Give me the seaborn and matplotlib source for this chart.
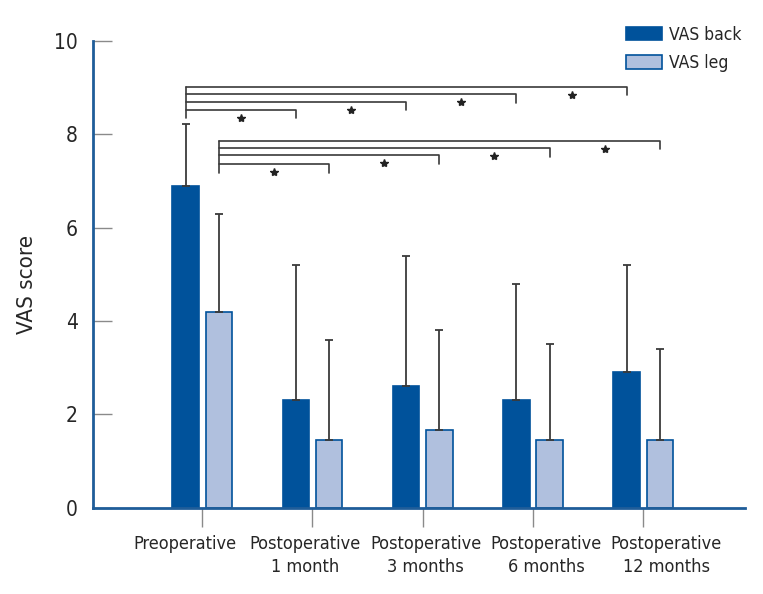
import numpy as np
import pandas as pd
import matplotlib
matplotlib.use("Agg")
import matplotlib.pyplot as plt
from matplotlib import font_manager
import seaborn as sns

# values (mean and upward SD)
categories = ["Preoperative", "Postoperative\n1 month", "Postoperative\n3 months",
              "Postoperative\n6 months", "Postoperative\n12 months"]
series = ["VAS back", "VAS leg"]
back_mean = [6.9, 2.3, 2.6, 2.3, 2.9]
back_sd = [1.33, 2.9, 2.8, 2.5, 2.3]
leg_mean = [4.2, 1.46, 1.66, 1.46, 1.46]
leg_sd = [2.1, 2.14, 2.14, 2.04, 1.94]
y_ticks = [0, 2, 4, 6, 8, 10]

df = pd.DataFrame({
    "period": categories * 2,
    "series": [series[0]] * len(categories) + [series[1]] * len(categories),
    "score": back_mean + leg_mean,
})

sns.set_style("white")

# pick a narrow sans font if one is around, the reference uses a condensed face
narrow = None
for f in font_manager.fontManager.ttflist:
    if f.style != "normal" or f.weight not in (400, "normal", "regular"):
        continue
    if "Narrow" in f.name or f.stretch in ("condensed", "semi-condensed") or "Condensed" in f.fname:
        narrow = f
        break
if narrow is not None:
    plt.rcParams["font.family"] = [narrow.name, "DejaVu Sans"]
    plt.rcParams["font.stretch"] = narrow.stretch
    fs_scale = 1.0
else:
    plt.rcParams["font.family"] = ["Liberation Sans", "DejaVu Sans"]
    fs_scale = 0.92

dark = "#00529b"
light = "#b0c0de"
line_col = "#3a3a3a"
tick_col = "#8a8a8a"

fig = plt.figure(figsize=(7.63, 5.94), dpi=100)
ax = fig.add_axes([0.122, 0.145, 0.854, 0.786])

sns.barplot(data=df, x="period", y="score", hue="series", hue_order=series,
            palette=[dark, light], width=0.6, gap=0.2, errorbar=None,
            saturation=1, ax=ax)
if ax.get_legend():
    ax.get_legend().remove()

bars = list(ax.containers[:2])
for cont in bars:
    for p in cont.patches:
        p.set_edgecolor(dark)
        p.set_linewidth(1.2)

# one-sided error bars (upper SD only)
for cont, sd in zip(bars, [back_sd, leg_sd]):
    xs = [p.get_x() + p.get_width() / 2 for p in cont.patches]
    ys = [p.get_height() for p in cont.patches]
    ax.errorbar(xs, ys, yerr=[np.zeros(len(sd)), sd], fmt="none",
                ecolor=line_col, elinewidth=1.3, capsize=3, capthick=1.3, zorder=3)


def brackets(cont, levels, drop=0.18):
    xs = [p.get_x() + p.get_width() / 2 for p in cont.patches]
    x0 = xs[0]
    ax.plot([x0, x0], [levels[-1], levels[0] - drop], color=line_col, lw=1.2)
    prev = x0
    for xe, lv in zip(xs[1:], levels):
        ax.plot([x0, xe, xe], [lv, lv, lv - drop], color=line_col, lw=1.2)
        ax.plot((prev + xe) / 2, lv - 0.17, marker="*", color="#222222",
                markersize=6, linestyle="none")
        prev = xe


brackets(bars[0], [8.52, 8.70, 8.86, 9.02])
brackets(bars[1], [7.36, 7.55, 7.70, 7.86])

ax.set_xlim(-0.99, 4.92)
ax.set_ylim(0, 10)
ax.set_yticks(y_ticks)
ax.set_xlabel("")
ax.set_ylabel("VAS score", fontsize=16 * fs_scale)
ax.yaxis.set_label_coords(-0.086, 0.478)

# tick marks sit at the groups, the labels are spread a bit wider in the reference
ax.set_xticks(range(len(categories)), labels=[""] * len(categories))
ax.set_xticks(np.linspace(-0.16, 4.21, len(categories)), labels=categories, minor=True)

for s in ["top", "right"]:
    ax.spines[s].set_visible(False)
for s in ["left", "bottom"]:
    ax.spines[s].set_color("#1f5d99")
    ax.spines[s].set_linewidth(2)

ax.tick_params(axis="y", direction="in", length=14, width=1, color=tick_col,
               labelsize=15 * fs_scale, pad=11, left=True)
ax.tick_params(axis="x", which="major", direction="out", length=13.5, width=1,
               color=tick_col, bottom=True)
ax.tick_params(axis="x", which="minor", length=0, labelsize=13 * fs_scale, pad=19.5)
for lab in ax.get_xticklabels(minor=True):
    lab.set_linespacing(1.38)

ax.legend(handles=bars, labels=series, loc="upper left",
          bbox_to_anchor=(0.8204, 0.957), bbox_transform=fig.transFigure,
          frameon=False, fontsize=12.5 * fs_scale, handlelength=2.05, handleheight=0.8,
          labelspacing=0.6, handletextpad=0.45, borderpad=0, borderaxespad=0)

fig.savefig("out.png", dpi=100)
